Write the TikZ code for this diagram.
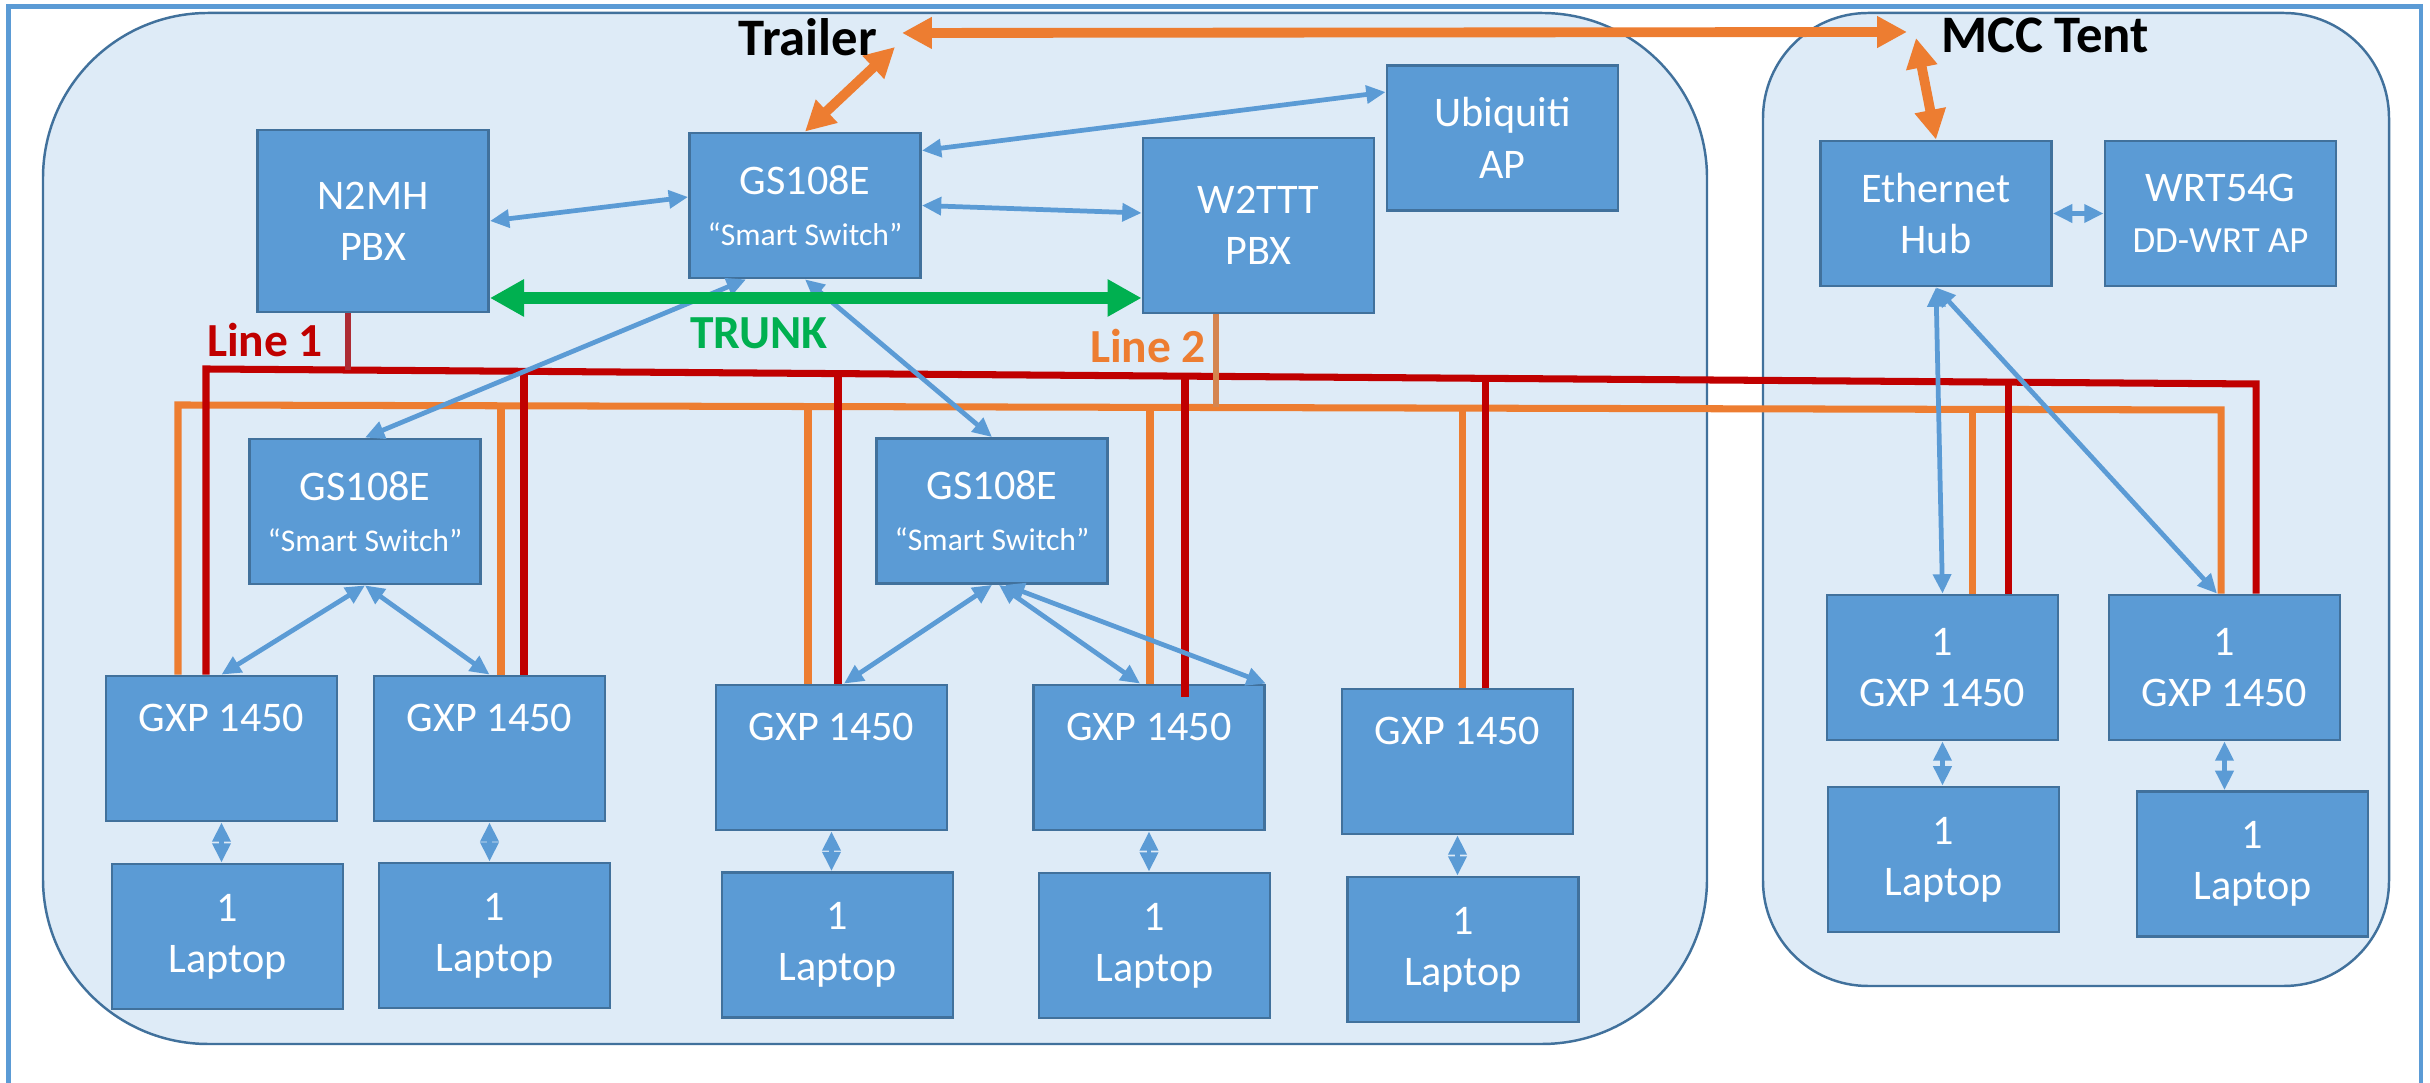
\documentclass[tikz,border=0pt]{standalone}
\usepackage{fontspec}
\setmainfont{Carlito}
\usetikzlibrary{positioning,arrows.meta}

\definecolor{devblue}{HTML}{5B9BD5}
\definecolor{devedge}{HTML}{41719C}
\definecolor{roomblue}{HTML}{DEEBF7}
\definecolor{lineone}{HTML}{C00000}
\definecolor{linetwo}{HTML}{ED7D31}
\definecolor{trunkgreen}{HTML}{00B050}
\definecolor{tapone}{HTML}{AD2B34}
\definecolor{taptwo}{HTML}{D5844F}

\newcommand{\subtext}[1]{{\fontsize{9}{11}\selectfont #1}}
\newcommand{\gxptext}{GXP 1450\\[3pt]\mbox{}}

\tikzset{
  dev/.style={draw=devedge, line width=0.8pt, fill=devblue, text=white,
    align=center, inner sep=0pt, minimum width=2.31cm, minimum height=1.45cm,
    font=\fontsize{12}{14.6}\selectfont},
  room/.style={draw=devedge, line width=0.7pt, fill=roomblue, rounded corners=16.5mm},
  sheet/.style={draw=devblue, line width=1.4pt},
  link/.style={color=devblue, line width=1.35pt,
    {Triangle[length=5.5pt,width=5pt]}-{Triangle[length=5.5pt,width=5pt]}},
  uplink/.style={color=linetwo, line width=2.8pt,
    {Triangle[length=8.5pt,width=8.5pt]}-{Triangle[length=8.5pt,width=8.5pt]}},
  trunk/.style={color=trunkgreen, line width=3.4pt,
    {Triangle[length=9.7pt,width=10pt]}-{Triangle[length=9.7pt,width=10pt]}},
  redwire/.style={color=lineone, line width=2pt, line join=miter},
  orangewire/.style={color=linetwo, line width=2pt, line join=miter},
  title/.style={font=\bfseries\fontsize{15}{18}\selectfont},
  tag/.style={font=\bfseries\fontsize{13.5}{16}\selectfont}
}

\begin{document}
\begin{tikzpicture}[node distance=2cm,on grid]
    \useasboundingbox (0,0) rectangle (24.30,10.83);
    % frame and the two rooms
    \draw[sheet] (0.086,-0.2) -- (0.086,10.763) -- (24.21,10.763) -- (24.21,-0.2);
    \draw[room] (0.43,0.39) rectangle (17.07,10.70);
    \draw[room, rounded corners=10.5mm] (17.63,0.97) rectangle (23.89,10.70);

    % trailer
    \node[dev, minimum height=1.82cm] (pbx_1) at (3.73,8.62) {N2MH\\PBX};
    \node[dev] (sw_0) [above right=0.155 and 4.32of pbx_1] {GS108E\\\subtext{“Smart Switch”}};
    \node[dev, minimum height=1.75cm] (pbx_2) [below right=0.2 and 4.535of sw_0] {W2TTT\\PBX};
    \node[dev] (ap_1) [above right=0.875 and 2.44of pbx_2] {Ubiquiti\\AP};
    \node[dev] (sw_1) [below left=2.905 and 0.08of pbx_1] {GS108E\\\subtext{“Smart Switch”}};
    \node[dev] (sw_2) [below right=3.055 and 1.87of sw_0] {GS108E\\\subtext{“Smart Switch”}};
    \node[dev] (gxp_1) [below left=2.37 and 1.435of sw_1] {\gxptext};
    \node[dev] (gxp_2) [right=2.68of gxp_1] {\gxptext};
    \node[dev] (gxp_3) [below left=2.465 and 1.605of sw_2] {\gxptext};
    \node[dev] (gxp_4) [right=3.175of gxp_3] {\gxptext};
    \node[dev] (gxp_5) [below right=0.04 and 3.085of gxp_4] {\gxptext};
    \node[dev] (lap_1) [below right=1.88 and 0.06of gxp_1] {1\\Laptop};
    \node[dev] (lap_2) [below right=1.87 and 0.05of gxp_2] {1\\Laptop};
    \node[dev] (lap_3) [below right=1.875 and 0.06of gxp_3] {1\\Laptop};
    \node[dev] (lap_4) [below right=1.88 and 0.055of gxp_4] {1\\Laptop};
    \node[dev] (lap_5) [below right=1.88 and 0.055of gxp_5] {1\\Laptop};

    % MCC tent
    \node[dev] (hub) at (19.36,8.695) {Ethernet\\Hub};
    \node[dev] (ap_2) [right=2.845of hub] {WRT54G\\{\fontsize{10.5}{12}\selectfont DD-WRT AP}};
    \node[dev] (gxp_6) [below right=4.54 and 0.065of hub] {1\\GXP 1450};
    \node[dev] (gxp_7) [right=2.82of gxp_6] {1\\GXP 1450};
    \node[dev] (lap_6) [below right=1.92 and 0.01of gxp_6] {1\\Laptop};
    \node[dev] (lap_7) [below right=1.965 and 0.28of gxp_7] {1\\Laptop};

    % phone lines
    \coordinate (o_0) at (12.16,6.755);
    \coordinate (o_1) at (1.78,6.78);
    \coordinate (o_2) at (5.01,6.772);
    \coordinate (o_3) at (8.08,6.765);
    \coordinate (o_4) at (11.50,6.756);
    \coordinate (o_5) at (14.62,6.749);
    \coordinate (o_6) at (19.72,6.736);
    \coordinate (o_7) at (22.21,6.73);
    \coordinate (r_0) at (3.48,7.13);
    \coordinate (r_1) at (2.06,7.14);
    \coordinate (r_2) at (5.24,7.117);
    \coordinate (r_3) at (8.38,7.094);
    \coordinate (r_4) at (11.85,7.069);
    \coordinate (r_5) at (14.85,7.047);
    \coordinate (r_6) at (20.08,7.008);
    \coordinate (r_7) at (22.56,6.99);
    \draw[orangewire] (o_1 |- gxp_1.north) -- (o_1) -- (o_7) -- (o_7 |- gxp_7.north);
    \path[orangewire]
          (o_2) edge (o_2 |- gxp_2.north)
          (o_3) edge (o_3 |- gxp_3.north)
          (o_4) edge (o_4 |- gxp_4.north)
          (o_5) edge (o_5 |- gxp_5.north)
          (o_6) edge (o_6 |- gxp_6.north);
    \draw[redwire] (r_1 |- gxp_1.north) -- (r_1) -- (r_7) -- (r_7 |- gxp_7.north);
    \path[redwire]
          (r_2) edge (r_2 |- gxp_2.north)
          (r_3) edge (r_3 |- gxp_3.north)
          (r_4) edge ([yshift=-1.3mm]r_4 |- gxp_4.north)
          (r_5) edge (r_5 |- gxp_5.north)
          (r_6) edge (r_6 |- gxp_6.north);
    \draw[color=tapone, line width=1.6pt] (r_0 |- pbx_1.south) -- (r_0);
    \draw[color=taptwo, line width=1.7pt] (o_0 |- pbx_2.south) -- (o_0);

    % ethernet
    \path[link]
          (pbx_1.east) edge ([yshift=0.85mm]sw_0.west)
          ([yshift=-1.9mm]sw_0.north east) edge ([yshift=-2.8mm]ap_1.north west)
          (sw_0.east) edge ([yshift=1.25mm]pbx_2.west)
          ([xshift=-5.9mm]sw_0.south) edge (sw_1.north)
          (sw_0.south) edge (sw_2.north)
          (sw_1.south) edge (gxp_1.north)
                       edge (gxp_2.north)
          (sw_2.south) edge ([xshift=1.25mm]gxp_3.north)
          ([xshift=0.7mm]sw_2.south) edge ([xshift=-0.9mm]gxp_4.north)
          ([xshift=1.3mm]sw_2.south) edge (gxp_4.north east)
          (hub.south) edge (gxp_6.north)
                      edge ([xshift=-0.75mm]gxp_7.north)
          (hub.east) edge (ap_2.west)
          (gxp_1.south) edge (gxp_1.south |- lap_1.north)
          (gxp_2.south) edge (gxp_2.south |- lap_2.north)
          (gxp_3.south) edge (gxp_3.south |- lap_3.north)
          (gxp_4.south) edge (gxp_4.south |- lap_4.north)
          (gxp_5.south) edge (gxp_5.south |- lap_5.north)
          (gxp_6.south) edge (gxp_6.south |- lap_6.north)
          (gxp_7.south) edge (gxp_7.south |- lap_7.north);

    % uplink between trailer and tent
    \coordinate (u_1) at (8.95,10.36);
    \coordinate (u_2) at (9.02,10.50);
    \coordinate (u_3) at (19.07,10.51);
    \coordinate (u_4) at (19.16,10.45);
    \path[uplink]
          (u_1) edge (sw_0.north)
          (u_2) edge (u_3)
          (u_4) edge (hub.north);
    \draw[trunk] ([yshift=-7.7mm]pbx_1.east) -- ([yshift=-7.7mm]pbx_1.east -| pbx_2.west);

    % labels
    \node[title] (trailer) at (8.08,10.46) {Trailer};
    \node[title] (tent) at (20.45,10.48) {MCC Tent};
    \node[tag, text=lineone] (line_1) at (2.65,7.43) {Line 1};
    \node[tag, text=linetwo] (line_2) at (11.48,7.37) {Line 2};
    \node[tag, text=trunkgreen] (trunk_0) at (7.59,7.50) {TRUNK};
\end{tikzpicture}
\end{document}
